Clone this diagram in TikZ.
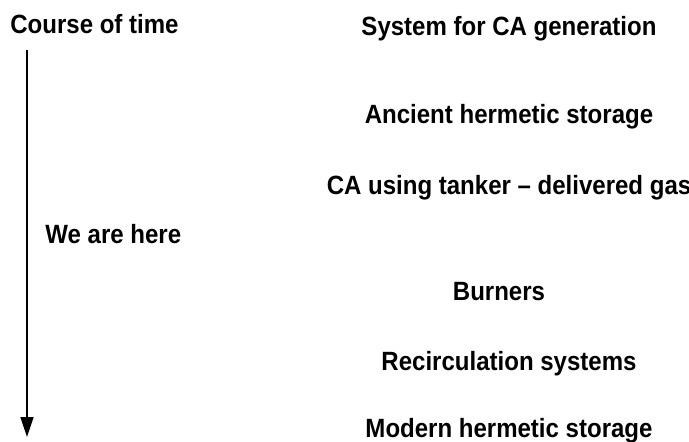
\documentclass[tikz,border=0pt]{standalone}
\usepackage{fontspec}
\setsansfont[FakeStretch=0.91]{Liberation Sans}
\usepackage{tikz}
\usetikzlibrary{arrows.meta, positioning}

\begin{document}
\begin{tikzpicture}[
    x=0.5pt, y=-0.5pt,
    font=\sffamily\bfseries\fontsize{13.2}{15}\selectfont,
    >={Triangle[width=6.5pt, length=10pt]},
    node distance=21pt,
    lbl/.style={inner sep=0pt, text height=10pt, text depth=3pt},
  ]
    \useasboundingbox (0,0) rectangle (689,441);

    % Left column: time axis
    \node[lbl, anchor=base west] (course) at (10,33) {Course of time};
    \coordinate (ttop) at (27,50);
    \coordinate (tend) at (27,437);
    \draw[->, line width=0.7pt] (ttop) -- (tend);
    \node[lbl, anchor=base west] (here) at (45,243) {We are here};

    % Right column: systems
    \node[lbl, anchor=base] (sys) at (509,35) {System for CA generation};
    \node[lbl, below=31pt of sys] (ancient) {Ancient hermetic storage};
    \node[lbl, below=22pt of ancient] (tanker) {CA using tanker -- delivered gas};
    \node[lbl, below=39.5pt of tanker, xshift=-5pt] (burn) {Burners};
    \node[lbl, below=21.5pt of burn, xshift=5pt] (recirc) {Recirculation systems};
    \node[lbl, below=20pt of recirc] (modern) {Modern hermetic storage};
  \end{tikzpicture}
\end{document}
